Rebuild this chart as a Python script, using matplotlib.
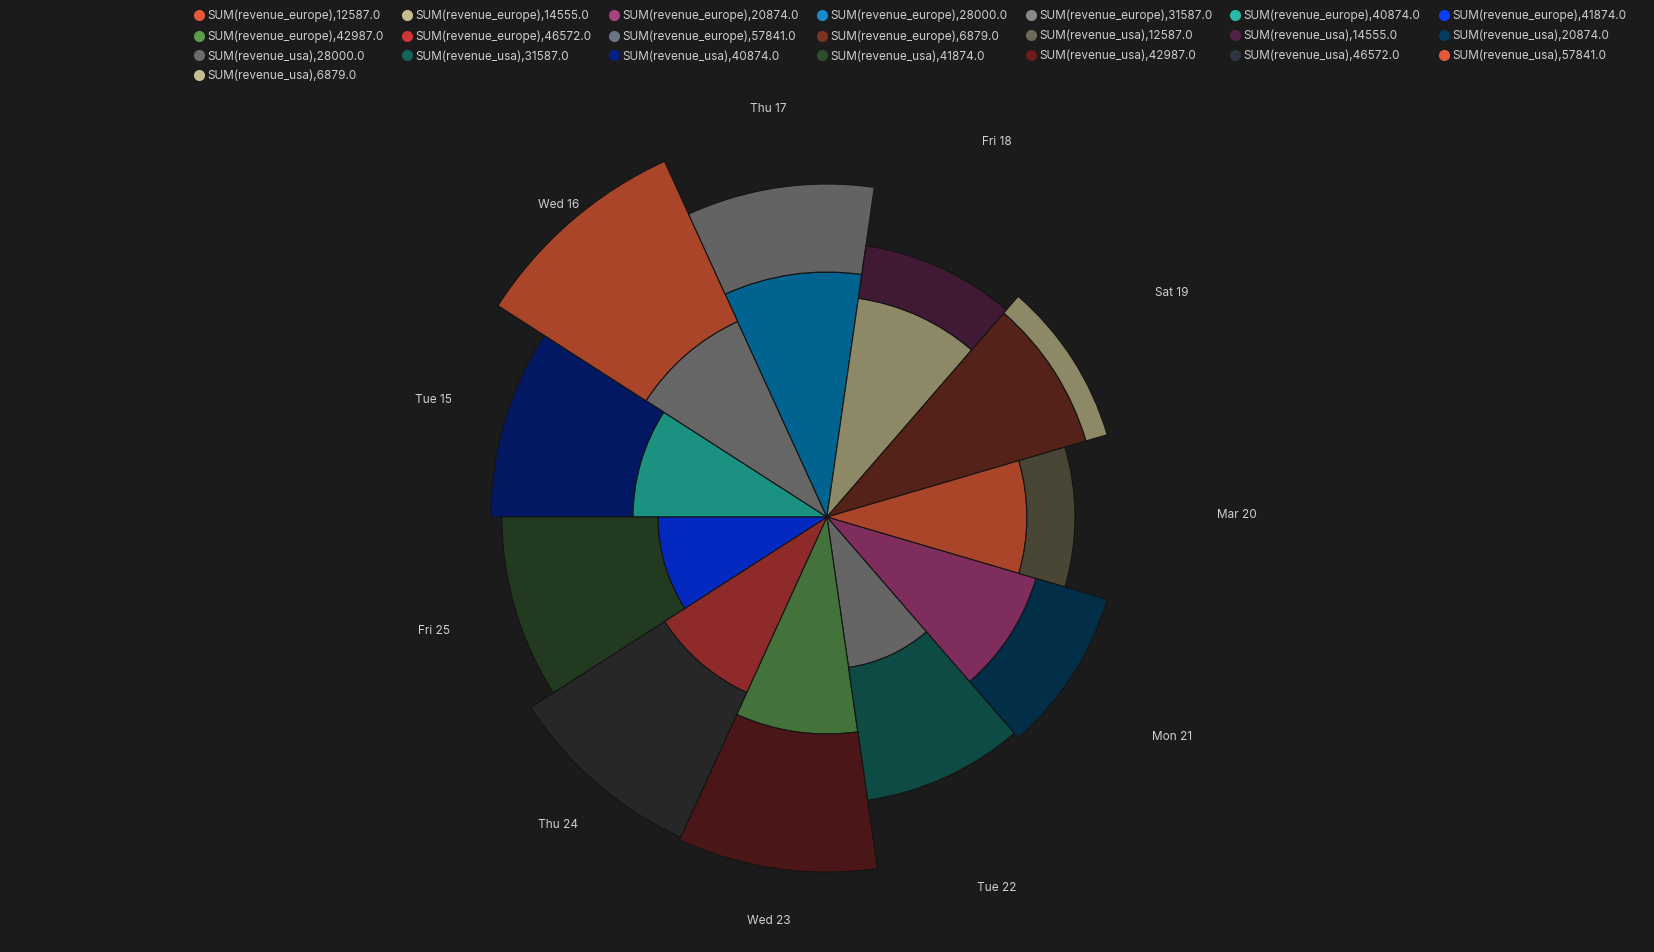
import matplotlib.pyplot as plt
import numpy as np
from matplotlib.lines import Line2D
from matplotlib.transforms import offset_copy

# one rose sector per day, europe stacked inside, usa on top
days = ['Tue 15', 'Wed 16', 'Thu 17', 'Fri 18', 'Sat 19', 'Mar 20',
        'Mon 21', 'Tue 22', 'Wed 23', 'Thu 24', 'Fri 25']
revenue_europe = [19400, 21500, 24500, 22100, 27000, 20000, 21800, 15200, 21700, 19300, 16900]
revenue_usa = [14200, 17600, 8800, 5300, 2200, 4800, 7400, 13400, 13800, 15900, 15600]

europe_colors = ['#1b9182', '#666666', '#01638f', '#8d8966', '#55221a', '#aa4529',
                 '#7e2d5c', '#656565', '#43733a', '#8f2a2a', '#0429c0']
usa_colors = ['#021862', '#aa4529', '#636363', '#401934', '#8d8966', '#4a4636',
              '#022e48', '#0e4b44', '#4b1617', '#272727', '#223b20']

# legend keys
metrics = ['revenue_europe', 'revenue_usa']
group_values = ['12587.0', '14555.0', '20874.0', '28000.0', '31587.0', '40874.0',
                '41874.0', '42987.0', '46572.0', '57841.0', '6879.0']
legend_colors_europe = ['#e5593b', '#c6bd91', '#a8417f', '#1a8ad0', '#8a8a8a', '#28b9a7',
                        '#0b3ef7', '#5b9f4d', '#cf3436', '#6b7585', '#7b3323']
legend_colors_usa = ['#6e6a58', '#532146', '#033d60', '#6c6c6c', '#13645a', '#041f85',
                     '#2c4d2a', '#6d1c1d', '#2f3542', '#e5593b', '#c6bd91']

BG = '#1b1b1b'
plt.rcParams['font.family'] = ['Inter', 'DejaVu Sans']

fig = plt.figure(figsize=(16.54, 9.52), dpi=100, facecolor=BG)
ax = fig.add_axes([0.246, 0.0157, 0.5079, 0.8824], projection='polar')
ax.set_facecolor(BG)
ax.set_theta_zero_location('W')
ax.set_theta_direction(-1)

n = len(days)
width = 2 * np.pi / n
theta = np.arange(n) * width
ax.bar(theta, revenue_europe, width=width, align='edge', color=europe_colors,
       edgecolor='#141414', linewidth=0.8)
ax.bar(theta, revenue_usa, width=width, bottom=revenue_europe, align='edge',
       color=usa_colors, edgecolor='#141414', linewidth=0.8)
ax.set_ylim(0, 42000)

# day labels sit a little above their anchor point
label_trans = offset_copy(ax.transData, fig=fig, y=2, units='dots')
for t, d in zip(theta + width / 2, days):
    ax.text(t, 41000, d, ha='center', va='center', color='#cfcfcf', fontsize=8.5,
            transform=label_trans)
ax.axis('off')

#legend
handles = []
labels = []
for metric, cols in zip(metrics, [legend_colors_europe, legend_colors_usa]):
    for v, c in zip(group_values, cols):
        handles.append(Line2D([], [], ls='', marker='o', markersize=8,
                              markerfacecolor=c, markeredgewidth=0))
        labels.append('SUM({}),{}'.format(metric, v))
ncol = 7
order = [i for c in range(ncol) for i in range(c, len(labels), ncol)]
fig.legend([handles[i] for i in order], [labels[i] for i in order], ncol=ncol,
           loc='upper left', bbox_to_anchor=(0.1175, 0.9895), frameon=False,
           fontsize=8.5, labelcolor='#cccccc', handlelength=0.8, handletextpad=0.3,
           columnspacing=1.56, labelspacing=0.66, borderpad=0, borderaxespad=0)

fig.savefig('out.png', dpi=100, facecolor=BG)
